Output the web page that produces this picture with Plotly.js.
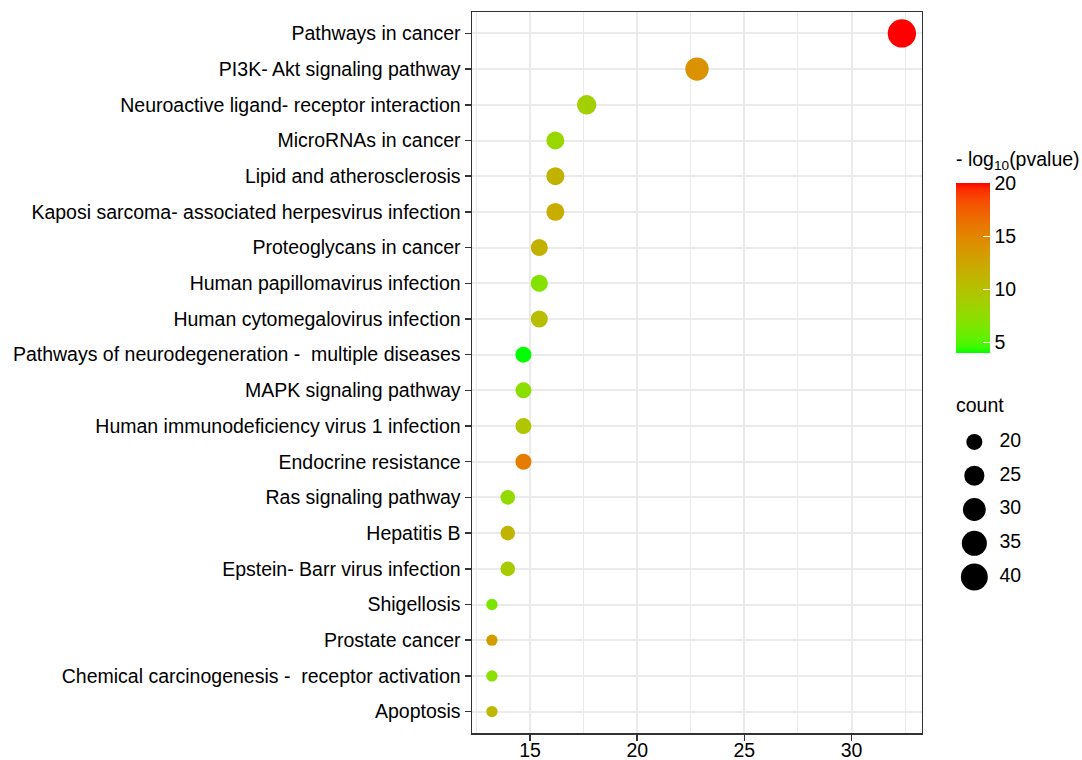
<!DOCTYPE html>
<html>
<head>
<meta charset="utf-8">
<script src="https://cdn.plot.ly/plotly-3.0.1.min.js"></script>
<style>html,body{margin:0;padding:0;background:#fff;}#chart{width:1082px;height:760px;}</style>
</head>
<body>
<div id="chart"></div>
<script>
// ---- data ----
var pathways = [
  "Pathways in cancer",
  "PI3K- Akt signaling pathway",
  "Neuroactive ligand- receptor interaction",
  "MicroRNAs in cancer",
  "Lipid and atherosclerosis",
  "Kaposi sarcoma- associated herpesvirus infection",
  "Proteoglycans in cancer",
  "Human papillomavirus infection",
  "Human cytomegalovirus infection",
  "Pathways of neurodegeneration -  multiple diseases",
  "MAPK signaling pathway",
  "Human immunodeficiency virus 1 infection",
  "Endocrine resistance",
  "Ras signaling pathway",
  "Hepatitis B",
  "Epstein- Barr virus infection",
  "Shigellosis",
  "Prostate cancer",
  "Chemical carcinogenesis -  receptor activation",
  "Apoptosis"
];
var xValues = [32.35, 22.79, 17.64, 16.18, 16.18, 16.18, 15.43, 15.43, 15.43, 14.69,
               14.69, 14.69, 14.69, 13.96, 13.96, 13.96, 13.22, 13.22, 13.22, 13.22];
var counts = [44, 31, 24, 22, 22, 22, 21, 21, 21, 20, 20, 20, 20, 19, 19, 19, 18, 18, 18, 18];
var negLogP = [20.06, 14.1, 8.7, 8.1, 11.4, 12.0, 11.5, 6.9, 10.4, 4.06,
               7.3, 9.7, 15.6, 7.8, 11.3, 9.2, 6.6, 13.2, 7.3, 11.0];
var sizeBreaks = [20, 25, 30, 35, 40];
var colorTicks = [5, 10, 15, 20];
var xTicks = [15, 20, 25, 30];

// ---- styling helpers ----
var FONT = "Liberation Sans, Arial, Helvetica, sans-serif";
var FS = 19.5;
var cMin = Math.min.apply(null, counts), cMax = Math.max.apply(null, counts);
function dia(c) { // ggplot scale_size (area) mapping to px diameter
  var t = (c - cMin) / (cMax - cMin);
  t = Math.max(0, Math.min(1, t));
  return 11.3 + 17 * Math.sqrt(t);
}
// Lab interpolation green -> red (ggplot scale_colour_gradient)
function srgbToLin(v){v/=255;return v<=0.04045?v/12.92:Math.pow((v+0.055)/1.055,2.4);}
function linToSrgb(v){v=Math.max(0,Math.min(1,v));v=v<=0.0031308?12.92*v:1.055*Math.pow(v,1/2.4)-0.055;return Math.round(v*255);}
function rgb2lab(r,g,b){
  r=srgbToLin(r);g=srgbToLin(g);b=srgbToLin(b);
  var X=(0.4124*r+0.3576*g+0.1805*b)/0.95047,Y=(0.2126*r+0.7152*g+0.0722*b),Z=(0.0193*r+0.1192*g+0.9505*b)/1.08883;
  function f(t){return t>0.008856?Math.cbrt(t):7.787*t+16/116;}
  var fx=f(X),fy=f(Y),fz=f(Z);
  return [116*fy-16,500*(fx-fy),200*(fy-fz)];
}
function lab2rgb(L,a,b){
  var fy=(L+16)/116,fx=fy+a/500,fz=fy-b/200;
  function fi(t){return t>0.206893?t*t*t:(t-16/116)/7.787;}
  var X=0.95047*fi(fx),Y=fi(fy),Z=1.08883*fi(fz);
  var r=3.2406*X-1.5372*Y-0.4986*Z,g=-0.9689*X+1.8758*Y+0.0415*Z,bb=0.0557*X-0.2040*Y+1.0570*Z;
  return 'rgb('+linToSrgb(r)+','+linToSrgb(g)+','+linToSrgb(bb)+')';
}
var labLo = rgb2lab(0,255,0), labHi = rgb2lab(255,0,0);
var colorscale = [];
for (var i = 0; i <= 30; i++) {
  var t = i / 30;
  colorscale.push([t, lab2rgb(labLo[0]+(labHi[0]-labLo[0])*t, labLo[1]+(labHi[1]-labLo[1])*t, labLo[2]+(labHi[2]-labLo[2])*t)]);
}

var pMin = Math.min.apply(null, negLogP), pMax = Math.max.apply(null, negLogP);

// colour bar geometry (paper coords; plot area spans 472..1080 x 12..733 px)
var CB_X = 0.7956, CB_Y = 0.6456, CB_LEN = 170, CB_TH = 34;
var PW = 1082 - 472 - 2, PH = 760 - 12 - 27;

var main = {
  type: 'scatter', mode: 'markers',
  x: xValues, y: pathways,
  xaxis: 'x', yaxis: 'y',
  marker: {
    size: counts.map(dia),
    color: negLogP,
    colorscale: colorscale,
    cmin: pMin, cmax: pMax,
    line: {width: 0},
    opacity: 1,
    showscale: true,
    colorbar: {
      x: CB_X, xanchor: 'left',
      y: CB_Y, yanchor: 'middle',
      len: CB_LEN, lenmode: 'pixels',
      thickness: CB_TH, thicknessmode: 'pixels',
      outlinewidth: 0,
      tickvals: colorTicks,
      ticktext: colorTicks.map(String),
      ticks: 'inside', ticklen: 7, tickwidth: 1.5, tickcolor: '#ffffff',
      tickfont: {family: FONT, size: FS, color: '#000'},
      xpad: 0, ypad: 0
    }
  },
  hoverinfo: 'x+y',
  showlegend: false
};

var legIdx = sizeBreaks.map(function(_, i){return i;});
var legendDots = {
  type: 'scatter', mode: 'markers',
  x: sizeBreaks.map(function(){return 0.2;}), y: legIdx,
  xaxis: 'x2', yaxis: 'y2',
  marker: {size: sizeBreaks.map(dia), color: 'rgb(0,0,0)', opacity: 1, line: {width: 0}},
  hoverinfo: 'skip', showlegend: false
};
var legendText = {
  type: 'scatter', mode: 'text',
  x: sizeBreaks.map(function(){return 0.44;}), y: legIdx,
  text: sizeBreaks.map(String),
  textposition: 'middle right',
  textfont: {family: FONT, size: FS, color: '#000'},
  xaxis: 'x2', yaxis: 'y2',
  hoverinfo: 'skip', showlegend: false
};

// white tick marks on the left edge of the colour bar (ggplot style)
var cbBottom = CB_Y - (CB_LEN / 2) / PH, cbTop = CB_Y + (CB_LEN / 2) / PH;
var cbShapes = colorTicks.map(function(v) {
  var yy = cbBottom + (v - pMin) / (pMax - pMin) * (cbTop - cbBottom);
  return {type: 'line', xref: 'paper', yref: 'paper',
          x0: CB_X, x1: CB_X + 7 / PW, y0: yy, y1: yy,
          line: {color: '#ffffff', width: 1.5}};
});

var layout = {
  width: 1082, height: 760,
  margin: {l: 472, r: 2, t: 12, b: 27, pad: 0},
  paper_bgcolor: '#ffffff', plot_bgcolor: '#ffffff',
  font: {family: FONT, size: FS, color: '#000'},
  xaxis: {
    domain: [0, 0.7398],
    range: [12.29, 33.28],
    tickvals: xTicks, ticktext: xTicks.map(String),
    ticks: 'outside', ticklen: 6, tickwidth: 1.5, tickcolor: '#333333',
    ticklabelstandoff: -7,
    tickfont: {family: FONT, size: FS, color: '#000'},
    showgrid: true, gridcolor: '#EBEBEB', gridwidth: 2,
    minor: {tick0: 12.5, dtick: 5, showgrid: true, gridcolor: '#EBEBEB', gridwidth: 1, ticks: ''},
    showline: true, linecolor: '#333333', linewidth: 1.5, mirror: true,
    zeroline: false, fixedrange: true
  },
  yaxis: {
    type: 'category',
    categoryorder: 'array', categoryarray: pathways,
    range: [pathways.length - 1 + 0.6, -0.6],
    ticks: 'outside', ticklen: 6, tickwidth: 1.5, tickcolor: '#333333',
    tickfont: {family: FONT, size: FS, color: '#000'},
    showgrid: true, gridcolor: '#EBEBEB', gridwidth: 2,
    showline: true, linecolor: '#333333', linewidth: 1.5, mirror: true,
    zeroline: false, fixedrange: true
  },
  xaxis2: {domain: [0.7918, 0.9639], range: [0, 1], visible: false, fixedrange: true, anchor: 'y2'},
  yaxis2: {domain: [0.1928, 0.4272], range: [4.5, -0.5], visible: false, fixedrange: true, anchor: 'x2'},
  shapes: cbShapes,
  annotations: [{
    xref: 'paper', yref: 'paper', x: 0.7935, y: 0.7947,
    xanchor: 'left', yanchor: 'middle',
    text: '- log<sub>10</sub>(pvalue)', showarrow: false,
    font: {family: FONT, size: FS, color: '#000'}
  }, {
    xref: 'paper', yref: 'paper', x: 0.7935, y: 0.455,
    xanchor: 'left', yanchor: 'middle',
    text: 'count', showarrow: false,
    font: {family: FONT, size: FS, color: '#000'}
  }]
};

Plotly.newPlot('chart', [main, legendDots, legendText], layout, {displayModeBar: false, staticPlot: true});
</script>
</body>
</html>
